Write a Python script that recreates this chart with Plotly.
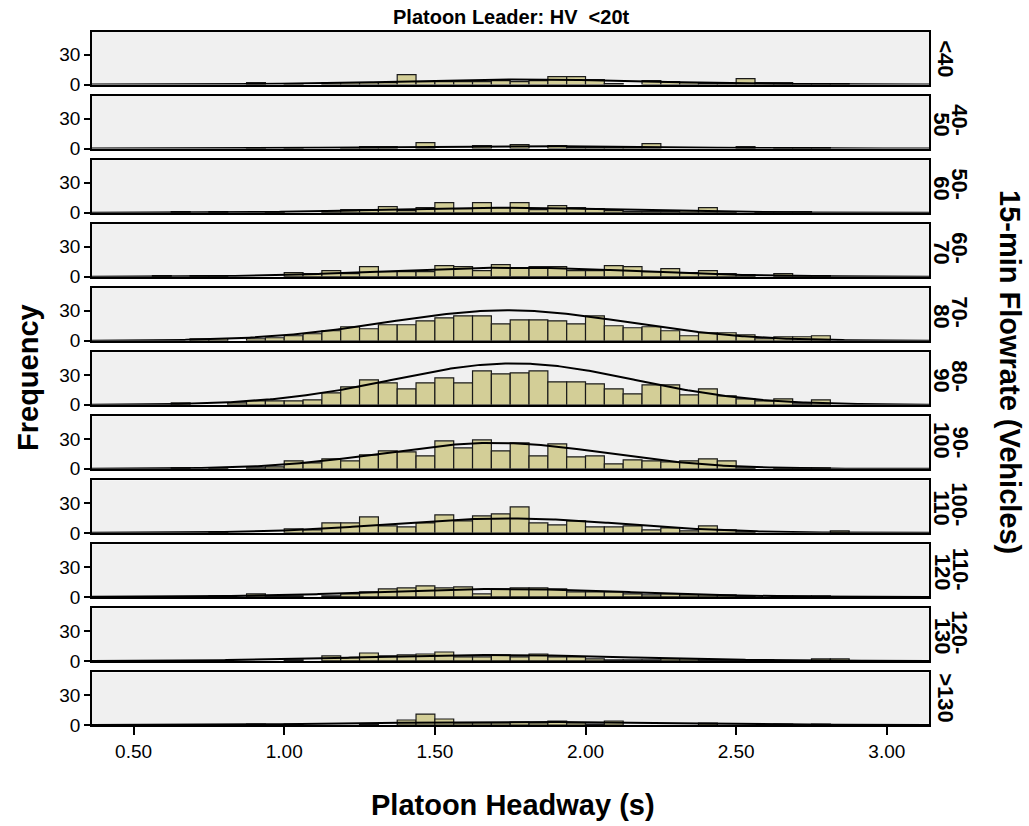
import numpy as np
import plotly.graph_objects as go
from plotly.subplots import make_subplots

# Histogram bins (seconds): 38 bins of 1/16 s starting at 0.5625 s
BIN_START = 0.5625
BIN_WIDTH = 0.0625
N_BINS = 38

# 15-min flowrate groups (vehicles), top panel to bottom panel
flow_groups = [["<40"], ["40-", "50"], ["50-", "60"], ["60-", "70"], ["70-", "80"],
               ["80-", "90"], ["90-", "100"], ["100-", "110"], ["110-", "120"],
               ["120-", "130"], [">130"]]

# Platoon headway frequencies per bin, one list per flowrate group
freq_lt40 = [0, 0, 0, 0, 0, 2, 0, 1, 0, 2, 2, 2, 2, 10, 3, 3, 3, 3, 4, 3, 4, 8, 8, 5, 1, 0, 4, 3, 2, 1, 1, 6, 2, 2, 1, 1, 1, 0]
freq_40_50 = [0, 0, 0, 0, 0, 1, 0, 1, 0, 0, 1, 2, 2, 0, 6, 0, 0, 3, 0, 4, 0, 3, 1, 1, 1, 1, 5, 0, 0, 0, 0, 2, 0, 1, 1, 1, 0, 0]
freq_50_60 = [0, 1, 0, 1, 0, 0, 1, 0, 0, 2, 3, 3, 6, 2, 5, 10, 4, 10, 5, 10, 3, 7, 5, 4, 2, 1, 1, 1, 2, 5, 1, 0, 1, 1, 1, 0, 0, 0]
freq_60_70 = [1, 0, 1, 1, 0, 0, 0, 4, 3, 6, 3, 10, 5, 5, 5, 11, 10, 6, 12, 9, 10, 10, 6, 6, 11, 10, 5, 8, 4, 6, 3, 2, 0, 3, 1, 1, 0, 0]
freq_70_80 = [0, 0, 2, 2, 0, 2, 3, 5, 7, 10, 14, 12, 16, 16, 20, 23, 25, 25, 17, 21, 21, 20, 17, 25, 15, 13, 14, 10, 5, 8, 8, 6, 2, 4, 4, 5, 0, 0]
freq_80_90 = [0, 2, 0, 0, 2, 4, 4, 4, 5, 12, 18, 25, 22, 16, 22, 27, 22, 34, 31, 32, 34, 23, 23, 21, 16, 11, 20, 20, 10, 16, 9, 6, 4, 6, 1, 5, 0, 0]
freq_90_100 = [0, 1, 0, 1, 0, 1, 2, 8, 6, 10, 8, 14, 18, 17, 13, 28, 21, 29, 18, 26, 13, 25, 12, 13, 5, 9, 8, 7, 8, 10, 8, 1, 0, 1, 1, 1, 0, 0]
freq_100_110 = [0, 0, 0, 1, 0, 0, 0, 4, 3, 10, 10, 16, 7, 6, 10, 18, 12, 17, 19, 26, 10, 8, 12, 6, 6, 7, 3, 5, 2, 7, 3, 1, 0, 0, 0, 0, 2, 0]
freq_110_120 = [0, 0, 0, 1, 0, 3, 1, 1, 0, 1, 3, 5, 8, 9, 11, 9, 10, 3, 8, 9, 9, 8, 5, 5, 5, 3, 2, 3, 2, 2, 2, 1, 0, 1, 1, 1, 0, 0]
freq_120_130 = [0, 0, 0, 0, 0, 0, 0, 1, 0, 5, 3, 8, 5, 6, 7, 9, 4, 4, 6, 4, 7, 4, 4, 2, 1, 1, 1, 2, 2, 1, 1, 1, 1, 0, 0, 2, 2, 0]
freq_gt130 = [0, 0, 0, 0, 0, 1, 0, 1, 0, 0, 0, 1, 0, 5, 11, 6, 2, 2, 2, 3, 2, 4, 2, 1, 4, 0, 0, 0, 0, 2, 0, 0, 0, 1, 0, 1, 0, 0]

panels = [freq_lt40, freq_40_50, freq_50_60, freq_60_70, freq_70_80, freq_80_90,
          freq_90_100, freq_100_110, freq_110_120, freq_120_130, freq_gt130]

# Normal curve per group: centre (s), spread (s) and peak height (frequency)
curve_mean = [1.80, 1.80, 1.72, 1.76, 1.74, 1.76, 1.70, 1.74, 1.72, 1.70, 1.80]
curve_sd = [0.42, 0.45, 0.38, 0.42, 0.40, 0.40, 0.37, 0.39, 0.42, 0.45, 0.50]
curve_peak = [5.0, 2.5, 5.0, 9.0, 30.5, 41.5, 26.0, 14.5, 8.0, 6.0, 3.0]

x_ticks = [0.5, 1.0, 1.5, 2.0, 2.5, 3.0]
y_ticks = [0, 30]

X_RANGE = [0.362, 3.14]
Y_RANGE = [0, 52.7]

FILL = "#D3CE97"
PANEL_BG = "#F0F0F0"
FONT = "Liberation Sans, Arial, sans-serif"

W, H = 1029, 826
ML, MR, MT, MB = 92, 100, 32, 101
PW, PH = W - ML - MR, H - MT - MB
PANEL_H, GAP = 52.5, 11.5

n_rows = len(panels)
fig = make_subplots(rows=n_rows, cols=1, shared_xaxes=True,
                    vertical_spacing=GAP / PH)

centers = BIN_START + BIN_WIDTH * (np.arange(N_BINS) + 0.5)
xs = np.linspace(X_RANGE[0], X_RANGE[1], 400)

for i, counts in enumerate(panels):
    c = np.array(counts, dtype=float)
    keep = c > 0
    fig.add_trace(go.Bar(x=centers[keep], y=c[keep], width=BIN_WIDTH,
                         marker=dict(color=FILL, line=dict(color="#1a1a1a", width=1.2)),
                         showlegend=False, hoverinfo="skip"),
                  row=i + 1, col=1)
    ys = curve_peak[i] * np.exp(-0.5 * ((xs - curve_mean[i]) / curve_sd[i]) ** 2)
    fig.add_trace(go.Scatter(x=xs, y=ys, mode="lines",
                             line=dict(color="black", width=2),
                             showlegend=False, hoverinfo="skip"),
                  row=i + 1, col=1)

for i in range(n_rows):
    bottom = i == n_rows - 1
    fig.update_xaxes(range=X_RANGE, tickvals=x_ticks,
                     ticktext=[f"{v:.2f}" for v in x_ticks],
                     showticklabels=bottom, ticks="outside" if bottom else "",
                     ticklen=8, tickwidth=2, tickcolor="black",
                     showline=True, mirror=True, linecolor="black", linewidth=2,
                     showgrid=False, zeroline=False,
                     tickfont=dict(family=FONT, size=19, color="black"),
                     row=i + 1, col=1)
    fig.update_yaxes(range=Y_RANGE, tickvals=y_ticks,
                     ticks="outside", ticklen=6, tickwidth=2, tickcolor="black",
                     showline=True, mirror=True, linecolor="black", linewidth=1.5,
                     showgrid=False, zeroline=False,
                     tickfont=dict(family=FONT, size=19, color="black"),
                     row=i + 1, col=1)


def px_x(px):
    return (px - ML) / PW


def px_y(py):
    return (H - MB - py) / PH


# approximate bold glyph advance widths (em) used to line up the group labels
GLYPH_W = {"-": 0.333, "<": 0.584, ">": 0.584}


def text_len(s, size):
    return sum(GLYPH_W.get(ch, 0.556) for ch in s) * size


LABEL_SIZE = 22
annotations = []
for i, lines in enumerate(flow_groups):
    cy = MT + i * (PANEL_H + GAP) + PANEL_H / 2
    label_font = dict(family=FONT, size=LABEL_SIZE, color="black")
    if len(lines) == 1:
        annotations.append(dict(text="<b>" + lines[0] + "</b>", textangle=90,
                                x=px_x(946), y=px_y(cy), xref="paper", yref="paper",
                                xanchor="center", yanchor="middle", showarrow=False,
                                font=label_font))
    else:
        block = max(text_len(s, LABEL_SIZE) for s in lines)
        end_y = cy + block / 2
        for s, cx in zip(lines, [960, 942]):
            annotations.append(dict(text="<b>" + s + "</b>", textangle=90,
                                    x=px_x(cx), y=px_y(end_y), xref="paper", yref="paper",
                                    xanchor="center", yanchor="bottom", showarrow=False,
                                    font=label_font))

annotations += [
    dict(text="<b>Platoon Leader: HV  <20t</b>", x=px_x(511), y=px_y(17),
         xref="paper", yref="paper", showarrow=False, xanchor="center", yanchor="middle",
         font=dict(family=FONT, size=20, color="black")),
    dict(text="<b>Frequency</b>", textangle=-90, x=px_x(28), y=px_y(378),
         xref="paper", yref="paper", showarrow=False, xanchor="center", yanchor="middle",
         font=dict(family=FONT, size=29, color="black")),
    dict(text="<b>15-min Flowrate (Vehicles)</b>", textangle=90, x=px_x(1010), y=px_y(372),
         xref="paper", yref="paper", showarrow=False, xanchor="center", yanchor="middle",
         font=dict(family=FONT, size=29, color="black")),
    dict(text="<b>Platoon Headway (s)</b>", x=px_x(513), y=px_y(805),
         xref="paper", yref="paper", showarrow=False, xanchor="center", yanchor="middle",
         font=dict(family=FONT, size=29, color="black")),
]

fig.update_layout(width=W, height=H, margin=dict(l=ML, r=MR, t=MT, b=MB),
                  paper_bgcolor="white", plot_bgcolor=PANEL_BG,
                  barmode="overlay", annotations=annotations,
                  font=dict(family=FONT, color="black"))

fig.write_html("out.html")
